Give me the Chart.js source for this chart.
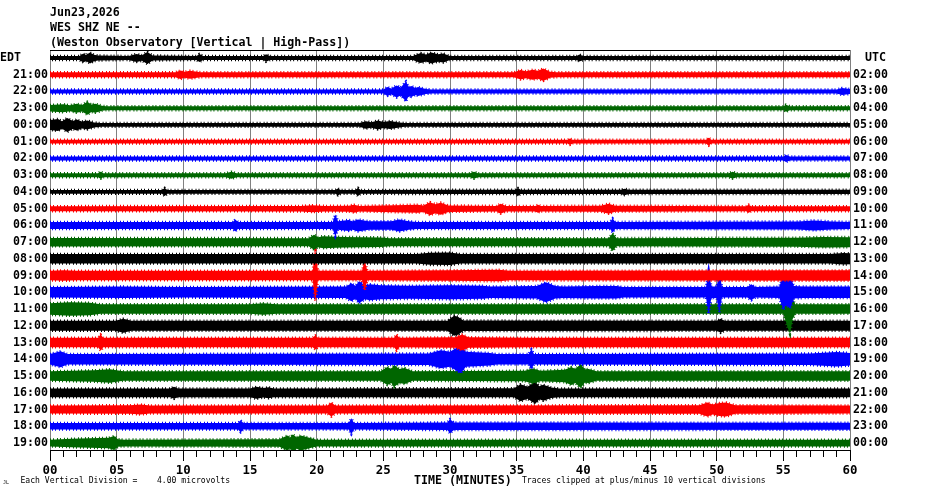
<!DOCTYPE html>
<html>
<head>
<meta charset="utf-8">
<title>WES SHZ NE helicorder</title>
<script src="https://cdn.jsdelivr.net/npm/chart.js@4.4.1/dist/chart.umd.min.js"></script>
<style>
  body { margin: 0; background: #fff; }
  #wrap { position: relative; width: 930px; height: 494px; }
  .t { position: absolute; font-family: "DejaVu Sans Mono", monospace; font-weight: bold;
       font-size: 11.6px; line-height: 12px; white-space: pre; color: #000; }
  .s { font-weight: normal; font-size: 8.1px; line-height: 9px; }
</style>
</head>
<body>
<div id="wrap">
  <canvas id="heli" width="930" height="494"></canvas>
  <div class="t" style="left:50px;top:5.5px">Jun23,2026</div>
  <div class="t" style="left:50px;top:20.5px">WES SHZ NE --</div>
  <div class="t" style="left:50px;top:35.5px">(Weston Observatory [Vertical | High-Pass])</div>
  <div class="t" style="left:0px;top:51px">EDT</div>
  <div class="t" style="left:865px;top:51px">UTC</div>
  <div class="t s" style="left:3px;top:478px;font-size:5px">JL</div>
  <div class="t s" style="left:20.5px;top:476px">Each Vertical Division =    4.00 microvolts</div>
  <div class="t" style="left:414px;top:473.5px">TIME (MINUTES)</div>
  <div class="t s" style="left:522px;top:476px">Traces clipped at plus/minus 10 vertical divisions</div>
</div>
<script>
// hour labels down the left (EDT) and right (UTC) side, first row has the header instead
const edtLabels = ['', '21:00', '22:00', '23:00', '00:00', '01:00', '02:00', '03:00', '04:00', '05:00', '06:00', '07:00',
  '08:00', '09:00', '10:00', '11:00', '12:00', '13:00', '14:00', '15:00', '16:00', '17:00', '18:00', '19:00'];
const utcLabels = ['', '02:00', '03:00', '04:00', '05:00', '06:00', '07:00', '08:00', '09:00', '10:00', '11:00', '12:00',
  '13:00', '14:00', '15:00', '16:00', '17:00', '18:00', '19:00', '20:00', '21:00', '22:00', '23:00', '00:00'];

// trace envelopes: [minute, half-amplitude in vertical divisions]
const h20 = [[0,0.8],[2.2,0.8],[2.5,1.8],[2.7,1.2],[3.0,2.2],[3.3,1.3],[3.6,1.0],[5.9,0.8],[6.5,1.6],[6.9,1.1],[7.3,2.4],[7.7,1.0],
  [11,0.8],[11.2,1.6],[11.5,0.8],[16,0.8],[16.2,1.5],[16.5,0.8],[27.2,0.8],[27.8,2.0],[28.2,1.4],[28.6,2.2],[29.1,1.5],[29.5,1.8],
  [30,0.8],[39.5,0.8],[39.7,1.4],[40,0.8],[60,0.8]];
const h21 = [[0,1.0],[9.4,1.0],[9.8,1.7],[10.1,1.2],[10.5,1.6],[11.3,1.0],[34.8,1.0],[35.3,1.9],[35.7,1.4],[36.2,2.0],[36.6,1.6],
  [37.0,2.5],[37.5,1.2],[38,1.0],[60,1.0]];
const h22 = [[0,0.8],[25.0,0.8],[25.3,1.8],[25.6,1.2],[26.0,2.4],[26.3,1.6],[26.7,4.0],[26.9,1.8],[27.1,2.2],[27.4,1.4],[27.6,1.8],
  [28.2,1.0],[28.6,0.8],[59.0,0.8],[59.4,1.4],[60,1.0]];
const h23 = [[0,1.3],[1.0,1.6],[1.5,1.2],[2.0,1.8],[2.4,1.3],[2.8,2.6],[3.1,1.5],[3.4,1.8],[3.9,1.0],[4.2,0.8],[55.0,0.8],
  [55.2,1.4],[55.5,0.8],[60,0.8]];
const h00 = [[0,2.0],[0.6,2.4],[0.9,1.5],[1.3,2.8],[1.7,1.6],[2.0,2.2],[2.4,1.4],[2.8,1.8],[3.3,1.0],[3.8,0.75],[23.2,0.75],
  [23.7,1.5],[24.1,1.1],[24.6,1.8],[25.0,1.2],[25.5,1.6],[26.2,1.0],[26.6,0.75],[60,0.75]];
const h01 = [[0,0.75],[38.8,0.75],[39,1.3],[39.2,0.75],[49.2,0.75],[49.4,1.6],[49.6,0.75],[60,0.75]];
const h02 = [[0,0.8],[55.0,0.8],[55.2,1.4],[55.5,0.8],[60,0.8]];
const h03 = [[0,0.8],[3.6,0.8],[3.8,1.4],[4.0,0.8],[13.2,0.8],[13.6,1.4],[14.0,0.8],[31.5,0.8],[31.8,1.4],[32.1,0.8],
  [50.9,0.8],[51.2,1.4],[51.5,0.8],[60,0.8]];
const h04 = [[0,0.75],[8.4,0.75],[8.6,1.6],[8.8,0.75],[21.4,0.75],[21.6,1.4],[21.8,0.75],[22.9,0.75],[23.1,1.6],[23.3,0.75],[30,0.85],
  [34.9,0.85],[35.1,1.6],[35.3,0.85],[42.8,0.85],[43.1,1.3],[43.4,0.85],[60,0.85]];
const h05 = [[0,1.0],[18.8,1.1],[19.7,1.4],[20.6,1.1],[22.4,1.2],[22.8,1.6],[23.2,1.1],[27.6,1.6],[28.0,1.3],[28.5,2.6],[28.9,1.8],
  [29.3,2.4],[29.9,1.3],[33.5,1.1],[33.8,2.0],[34.2,1.1],[36.4,1.1],[36.6,1.6],[36.8,1.1],[41.3,1.2],[41.9,2.0],[42.4,1.2],
  [52.2,1.0],[52.4,1.6],[52.6,1.0],[60,1.0]];
const h06 = [[0,1.4],[13.7,1.4],[13.9,2.4],[14.1,1.4],[21.2,1.4],[21.4,4.4],[21.6,1.7],[22.4,2.2],[22.7,1.7],[23.1,2.4],[23.9,1.7],
  [25.6,1.7],[26.2,2.4],[26.9,1.7],[27.5,1.4],[42.0,1.4],[42.2,2.8],[42.4,1.4],[56.1,1.6],[57.3,2.0],[58.6,1.6],[60,1.4]];
const h07 = [[0,1.7],[19.4,1.6],[19.8,3.0],[20.1,2.0],[20.5,2.4],[22,2.1],[24.8,1.9],[25.5,1.6],[41.9,1.6],[42.2,3.6],[42.5,1.6],
  [56,1.8],[58,2.1],[60,2.0]];
const h08 = [[0,1.9],[27.5,1.9],[28.5,2.4],[30,2.5],[30.8,1.9],[58.5,1.9],[59.5,2.3],[60,2.2]];
const h09 = [[0,1.9],[1.0,2.1],[2.0,1.9],[19.7,1.9],[19.9,10],[20.1,1.9],[23.4,1.9],[23.6,6.0],[23.8,1.9],[30,2.1],[33.7,2.3],
  [34.5,1.9],[60,2.1]];
const h10 = [[0,2.1],[5.5,2.3],[10,2.1],[22.2,2.3],[22.6,3.6],[22.9,2.6],[23.2,4.4],[23.6,2.8],[24.0,3.2],[24.8,2.8],[27,2.6],
  [30,2.8],[32.5,2.6],[33,2.3],[36.5,2.5],[37.2,4.0],[37.9,2.5],[38.5,2.3],[41,2.5],[42.5,2.5],[43,2.1],[49.2,2.1],[49.4,8.8],
  [49.6,2.3],[50.0,2.3],[50.2,8.0],[50.4,2.1],[52.3,2.1],[52.6,3.2],[52.9,2.1],[54.7,2.3],[55.0,7.0],[55.2,5.0],[55.5,6.5],
  [55.8,2.5],[56.5,2.3],[60,2.3]];
const h11 = [[0,2.3],[1.5,2.7],[3.0,2.5],[3.8,1.9],[15.0,1.9],[16,2.3],[17,1.9],[55.0,1.9],[55.3,7.0],[55.5,10],[55.7,4.0],
  [55.9,1.9],[60,1.9]];
const h12 = [[0,2.0],[4.9,2.0],[5.5,2.8],[6.1,2.0],[29.8,2.0],[30.3,4.0],[30.6,3.6],[31,2.1],[50.0,2.0],[50.3,2.8],[50.6,2.0],[60,2.0]];
const h13 = [[0,1.9],[3.6,1.9],[3.8,3.2],[4.0,1.9],[19.7,1.9],[19.9,2.8],[20.1,1.9],[25.8,1.9],[26.0,3.2],[26.2,1.9],[30.4,2.1],
  [30.9,3.2],[31.4,2.1],[36,1.9],[60,1.9]];
const h14 = [[0,2.1],[0.8,3.2],[1.3,2.1],[28.4,2.3],[29.3,3.6],[30.0,3.0],[30.8,5.6],[31.2,3.0],[33,2.5],[33.5,2.1],[35.9,2.1],
  [36.1,4.0],[36.3,2.1],[57,2.3],[59,2.9],[60,2.5]];
const h15 = [[0,1.9],[3.3,2.3],[4.5,2.7],[5.0,2.3],[5.5,1.9],[24.8,1.9],[25.3,3.6],[25.6,2.8],[25.8,4.4],[26.2,2.8],[26.6,3.2],
  [27.2,1.9],[35.6,2.1],[36.2,3.0],[36.8,2.1],[38.6,2.5],[39.1,3.6],[39.4,2.8],[39.8,4.8],[40.1,2.7],[40.4,2.8],[41,1.9],[60,1.9]];
const h16 = [[0,1.75],[9.0,1.75],[9.3,2.4],[9.6,1.75],[15.0,1.75],[15.5,2.4],[16.0,1.9],[16.4,2.2],[16.8,1.75],[34.8,1.8],
  [35.3,3.4],[35.8,2.4],[36.4,4.4],[36.7,2.6],[37.0,3.2],[37.6,2.1],[38.2,1.75],[60,1.75]];
const h17 = [[0,1.6],[6.0,1.7],[6.8,2.0],[7.5,1.6],[20.8,1.6],[21.1,2.8],[21.4,1.6],[48.7,1.7],[49.3,2.8],[49.7,2.0],[50.2,2.6],
  [50.7,2.8],[51.4,1.7],[60,1.6]];
const h18 = [[0,1.3],[14.1,1.3],[14.3,2.4],[14.5,1.3],[22.4,1.3],[22.6,3.2],[22.8,1.3],[29.8,1.5],[30.0,2.8],[30.3,1.5],[36,1.5],[60,1.4]];
const h19 = [[0,1.35],[1.6,1.7],[3.0,1.9],[4.4,2.1],[4.8,2.8],[5.1,1.5],[5.6,1.35],[17.2,1.5],[17.8,3.0],[18.0,2.2],[18.2,3.4],
  [18.5,2.3],[18.8,3.0],[19.6,1.9],[20.0,1.35],[60,1.35]];

const traces = [h20, h21, h22, h23, h00, h01, h02, h03, h04, h05, h06, h07,
  h08, h09, h10, h11, h12, h13, h14, h15, h16, h17, h18, h19];

const traceColors = ['#000000', '#ff0000', '#0000ff', '#006600'];
const ROW_STEP = 6.7; // vertical divisions between trace centres

// the envelope edges are stroked thick and broken so they look ragged like the trace
const datasets = [];
traces.forEach((env, i) => {
  const centre = i * ROW_STEP;
  const color = traceColors[i % traceColors.length];
  datasets.push({
    data: env.map(([m, a]) => ({ x: m, y: centre - a })),
    borderColor: color, backgroundColor: color, fill: false,
    borderWidth: 2.5, borderDash: [1, 2, 1, 3]
  });
  datasets.push({
    data: env.map(([m, a]) => ({ x: m, y: centre + a })),
    borderColor: color, backgroundColor: color, fill: '-1',
    borderWidth: 2.5, borderDash: [1, 3, 1, 2], borderDashOffset: 2
  });
});

const labelFont = { family: 'DejaVu Sans Mono', weight: 'bold', size: 11.6 };
const rowTicks = s => { s.ticks = edtLabels.map((_, i) => ({ value: i * ROW_STEP })); };
const yMin = -3.2, yMax = (edtLabels.length - 1) * ROW_STEP + 2.8;

const topFrame = {
  id: 'topFrame',
  afterDraw(chart) {
    const { ctx, chartArea: a } = chart;
    ctx.save();
    ctx.strokeStyle = '#000';
    ctx.lineWidth = 1;
    ctx.beginPath();
    ctx.moveTo(a.left, a.top + 0.5);
    ctx.lineTo(a.right, a.top + 0.5);
    ctx.stroke();
    ctx.restore();
  }
};

new Chart(document.getElementById('heli'), {
  type: 'line',
  data: { datasets },
  plugins: [topFrame],
  options: {
    responsive: false,
    animation: false,
    devicePixelRatio: 1,
    layout: { padding: { top: 50, left: 0, right: 0, bottom: 0 } },
    plugins: { legend: { display: false }, tooltip: { enabled: false } },
    elements: { point: { radius: 0 }, line: { borderWidth: 1, tension: 0 } },
    scales: {
      x: {
        type: 'linear', min: 0, max: 60, position: 'bottom', z: 1,
        ticks: {
          stepSize: 1, autoSkip: false, maxRotation: 0, padding: 2, color: '#000',
          font: { family: 'DejaVu Sans Mono', weight: 'bold', size: 12.4 },
          callback: v => (v % 5 === 0 ? String(v).padStart(2, '0') : '')
        },
        grid: {
          color: c => (c.tick && c.tick.value % 5 === 0 ? '#808080' : 'rgba(0,0,0,0)'),
          tickColor: '#000', tickLength: 11,
          tickBorderDash: c => (c.tick && c.tick.value % 5 === 0 ? [] : [6, 20])
        },
        border: { display: true, color: '#000', width: 1 },
        afterFit: s => { s.height = 44; }
      },
      y: {
        type: 'linear', reverse: true, min: yMin, max: yMax, position: 'left',
        afterBuildTicks: rowTicks,
        ticks: { autoSkip: false, padding: 2, color: '#000', font: labelFont, callback: (v, i) => edtLabels[i] },
        grid: { display: false, drawTicks: false },
        border: { display: false },
        afterFit: s => { s.width = 50; }
      },
      y2: {
        type: 'linear', reverse: true, min: yMin, max: yMax, position: 'right',
        afterBuildTicks: rowTicks,
        ticks: { autoSkip: false, padding: 3, color: '#000', font: labelFont, callback: (v, i) => utcLabels[i] },
        grid: { display: false, drawTicks: false },
        border: { display: false },
        afterFit: s => { s.width = 80; }
      }
    }
  }
});
</script>
</body>
</html>
